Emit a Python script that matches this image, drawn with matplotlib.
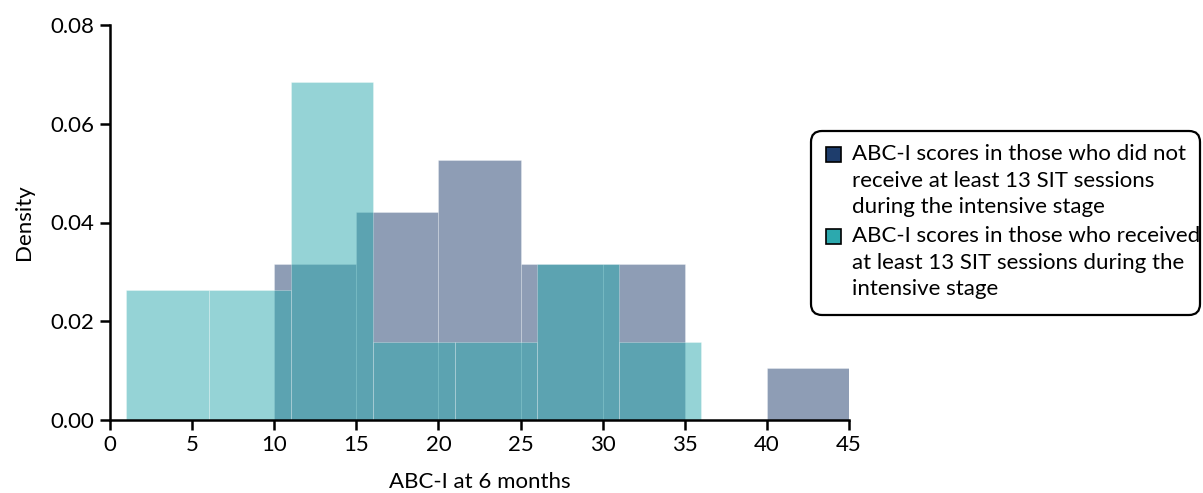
import numpy as np
import matplotlib.pyplot as plt
from matplotlib.patches import Rectangle, FancyBboxPatch
from matplotlib.ticker import FormatStrFormatter
from matplotlib.transforms import IdentityTransform

plt.rcParams['font.family'] = ['Lato', 'DejaVu Sans']

# ================================================
# Data (bin edges and counts)
# ================================================

# not >= 13 SIT sessions (n = 19)
navy_edges = [10, 15, 20, 25, 30, 35, 40, 45]
navy_counts = [3, 4, 5, 3, 3, 0, 1]

# >= 13 SIT sessions (n = 38)
teal_edges = [1, 6, 11, 16, 21, 26, 31, 36]
teal_counts = [5, 5, 13, 3, 3, 6, 3]

x_ticks = [0, 5, 10, 15, 20, 25, 30, 35, 40, 45]
y_ticks = [0.00, 0.02, 0.04, 0.06, 0.08]

legend_labels = [
    "ABC-I scores in those who did not\nreceive at least 13 SIT sessions\nduring the intensive stage",
    "ABC-I scores in those who received\nat least 13 SIT sessions during the\nintensive stage",
]

NAVY = '#1e3d6c'
TEAL = '#2ca9ae'
W, H = 1203, 493

# ================================================
# Plot
# ================================================

fig = plt.figure(figsize=(W / 100, H / 100), dpi=100)
ax = fig.add_axes([110 / W, 1 - 420 / H, (849 - 110) / W, (420 - 25) / H])

ax.hist(navy_edges[:-1], bins=navy_edges, weights=navy_counts, density=True,
        color=NAVY, alpha=0.5, edgecolor='white', linewidth=0.4)
ax.hist(teal_edges[:-1], bins=teal_edges, weights=teal_counts, density=True,
        color=TEAL, alpha=0.5, edgecolor='white', linewidth=0.4)

ax.set_xlim(0, 45)
ax.set_ylim(0, 0.08)
ax.set_xticks(x_ticks)
ax.set_yticks(y_ticks)
ax.yaxis.set_major_formatter(FormatStrFormatter('%.2f'))

for side in ['top', 'right']:
    ax.spines[side].set_visible(False)
for side in ['left', 'bottom']:
    ax.spines[side].set_linewidth(1.8)
ax.tick_params(axis='both', direction='out', length=7, width=1.8,
               labelsize=16, pad=4)

ax.set_xlabel('ABC-I at 6 months', fontsize=16, labelpad=12)
ax.set_ylabel('Density', fontsize=16, labelpad=12)

# ================================================
# Legend (drawn by hand so the keys sit on the first line)
# ================================================

box = FancyBboxPatch((811, H - 315), 1200 - 811, 315 - 131,
                     boxstyle='round,pad=0,rounding_size=11',
                     transform=IdentityTransform(), facecolor='white',
                     edgecolor='black', linewidth=1.6)
fig.patches.append(box)

for color, label, y_top in zip([NAVY, TEAL], legend_labels, [146, 228]):
    sq = Rectangle((826, H - y_top - 16), 15, 15,
                   transform=IdentityTransform(), facecolor=color,
                   edgecolor='black', linewidth=1.2)
    fig.patches.append(sq)
    fig.text(852 / W, 1 - (y_top - 2) / H, label, fontsize=16,
             ha='left', va='top', linespacing=1.42)

fig.savefig('out.png', dpi=100)
